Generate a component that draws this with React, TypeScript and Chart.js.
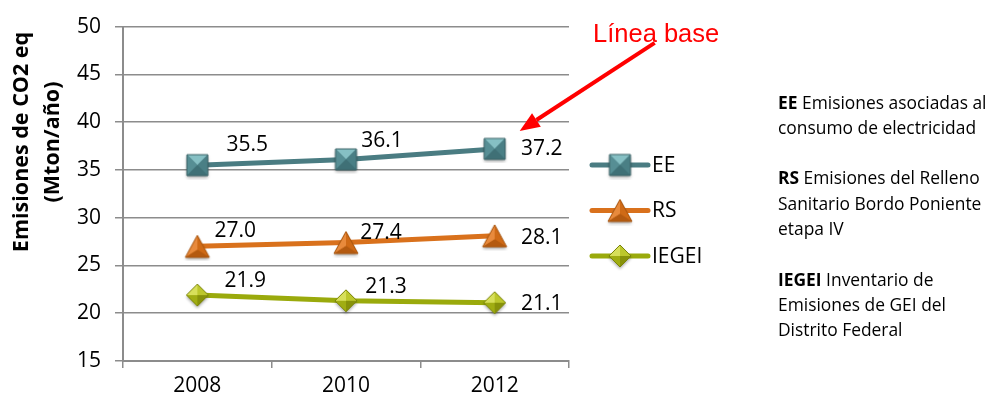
import React, { useEffect, useRef } from 'react';
import { Chart, registerables } from 'chart.js';

Chart.register(...registerables);

const YEARS = ['2008', '2010', '2012'];
const SERIES_NAMES = ['EE', 'RS', 'IEGEI'];
const EE_VALUES = [35.5, 36.1, 37.2];
const RS_VALUES = [27.0, 27.4, 28.1];
const IEGEI_VALUES = [21.9, 21.3, 21.1];
const Y_MIN = 15;
const Y_MAX = 50;
const Y_STEP = 5;
const Y_TITLE = ['Emisiones de CO2 eq', '(Mton/año)'];
const ANNOTATION_TEXT = 'Línea base';
const NOTES: [string, string][] = [
  ['EE', ' Emisiones asociadas al\nconsumo de electricidad'],
  ['RS', ' Emisiones del Relleno\nSanitario Bordo Poniente\netapa IV'],
  ['IEGEI', ' Inventario de\nEmisiones de GEI del\nDistrito Federal'],
];

const FONT = "'Open Sans', sans-serif";
const COLORS = ['#4a7c82', '#d9711c', '#9aaa0c'];

// label offsets (style/position, not data)
const LABEL_OFFSETS = [
  [[50, -20], [36, -18], [47, 0]],
  [[38, -15], [35, -10], [47, 2]],
  [[48, -14], [40, -14], [47, 1]],
];

type Pt = [number, number];

function makeMarker(kind: 'square' | 'triangle' | 'diamond', faces: string[], edge: string) {
  const pad = 4;
  const w = kind === 'square' ? 21 : kind === 'triangle' ? 24 : 22;
  const h = kind === 'square' ? 21 : kind === 'triangle' ? 22 : 22;
  const c = document.createElement('canvas');
  c.width = w + pad * 2;
  c.height = h + pad * 2;
  const ctx = c.getContext('2d')!;
  ctx.translate(pad, pad);
  let outline: Pt[] = [];
  let center: Pt = [w / 2, h / 2];
  let polys: Pt[][] = [];
  if (kind === 'square') {
    outline = [[0, 0], [w, 0], [w, h], [0, h]];
    polys = [
      [[0, 0], [w, 0], center],
      [[0, 0], [0, h], center],
      [[w, 0], [w, h], center],
      [[0, h], [w, h], center],
    ];
  } else if (kind === 'triangle') {
    center = [w / 2, h * 0.66];
    outline = [[w / 2, 0], [w, h], [0, h]];
    polys = [
      [[w / 2, 0], [0, h], center],
      [[w / 2, 0], [w, h], center],
      [[0, h], [w, h], center],
    ];
  } else {
    outline = [[w / 2, 0], [w, h / 2], [w / 2, h], [0, h / 2]];
    polys = [
      [[w / 2, 0], [0, h / 2], center],
      [[w / 2, 0], [w, h / 2], center],
      [[0, h / 2], [w / 2, h], center],
      [[w, h / 2], [w / 2, h], center],
    ];
  }
  const path = (p: Pt[]) => {
    ctx.beginPath();
    ctx.moveTo(p[0][0], p[0][1]);
    for (let i = 1; i < p.length; i++) ctx.lineTo(p[i][0], p[i][1]);
    ctx.closePath();
  };
  ctx.save();
  ctx.shadowColor = 'rgba(0,0,0,0.35)';
  ctx.shadowBlur = 3;
  ctx.shadowOffsetY = 2;
  path(outline);
  ctx.fillStyle = faces[faces.length - 1];
  ctx.fill();
  ctx.restore();
  polys.forEach((p, i) => {
    path(p);
    ctx.fillStyle = faces[i];
    ctx.fill();
  });
  path(outline);
  ctx.strokeStyle = edge;
  ctx.lineWidth = 1;
  ctx.stroke();
  return c;
}

export default function App() {
  const ref = useRef<HTMLCanvasElement | null>(null);

  useEffect(() => {
    const canvas = ref.current;
    if (!canvas) return;
    const markers = [
      makeMarker('square', ['#86c0c4', '#568e94', '#4a7f85', '#3f7076'], '#3a6367'),
      makeMarker('triangle', ['#e88a3c', '#cf6a16', '#b45a10'], '#a9560f'),
      makeMarker('diamond', ['#d7df5a', '#bcc72c', '#a0ad12', '#87920a'], '#7b8509'),
    ];
    const values = [EE_VALUES, RS_VALUES, IEGEI_VALUES];

    const overlay = {
      id: 'overlay',
      afterDatasetsDraw(chart: any) {
        const ctx = chart.ctx as CanvasRenderingContext2D;
        const area = chart.chartArea;
        ctx.save();
        // y axis title (two centred lines)
        ctx.fillStyle = '#000';
        ctx.font = `bold 21.5px ${FONT}`;
        ctx.textAlign = 'center';
        ctx.textBaseline = 'middle';
        Y_TITLE.forEach((line, i) => {
          ctx.save();
          ctx.translate(22 + i * 31, 142);
          ctx.rotate(-Math.PI / 2);
          ctx.fillText(line, 0, 0);
          ctx.restore();
        });
        // data labels
        ctx.font = `21px ${FONT}`;
        ctx.fillStyle = '#000';
        ctx.textAlign = 'center';
        ctx.textBaseline = 'middle';
        chart.data.datasets.forEach((ds: any, di: number) => {
          const meta = chart.getDatasetMeta(di);
          meta.data.forEach((pt: any, i: number) => {
            const off = LABEL_OFFSETS[di][i];
            ctx.fillText(Number(ds.data[i]).toFixed(1), pt.x + off[0], pt.y + off[1]);
          });
        });
        // legend
        chart.data.datasets.forEach((ds: any, di: number) => {
          const y = 165 + di * 45.5;
          const x0 = area.right + 23;
          ctx.strokeStyle = ds.borderColor;
          ctx.lineWidth = 5;
          ctx.lineCap = 'round';
          ctx.beginPath();
          ctx.moveTo(x0, y);
          ctx.lineTo(x0 + 56, y);
          ctx.stroke();
          const m = markers[di];
          ctx.drawImage(m, x0 + 28 - m.width / 2, y - m.height / 2);
          ctx.fillStyle = '#000';
          ctx.textAlign = 'left';
          ctx.font = `21px ${FONT}`;
          ctx.fillText(ds.label, x0 + 60, y + 1);
        });
        // annotation arrow
        const last = chart.getDatasetMeta(0).data[YEARS.length - 1];
        const tip: Pt = [last.x + 25, last.y - 18];
        const tail: Pt = [tip[0] + 135, tip[1] - 88];
        const ang = Math.atan2(tip[1] - tail[1], tip[0] - tail[0]);
        const headLen = 20;
        const headW = 8;
        const bx = tip[0] - headLen * Math.cos(ang);
        const by = tip[1] - headLen * Math.sin(ang);
        ctx.strokeStyle = '#ff0000';
        ctx.fillStyle = '#ff0000';
        ctx.lineWidth = 4;
        ctx.lineCap = 'butt';
        ctx.beginPath();
        ctx.moveTo(tail[0], tail[1]);
        ctx.lineTo(bx, by);
        ctx.stroke();
        ctx.beginPath();
        ctx.moveTo(tip[0], tip[1]);
        ctx.lineTo(bx + headW * Math.sin(ang), by - headW * Math.cos(ang));
        ctx.lineTo(bx - headW * Math.sin(ang), by + headW * Math.cos(ang));
        ctx.closePath();
        ctx.fill();
        ctx.font = `25.5px 'Liberation Sans', Arial, sans-serif`;
        ctx.textAlign = 'left';
        ctx.textBaseline = 'middle';
        ctx.fillText(ANNOTATION_TEXT, area.right + 24, 35);
        ctx.restore();
      },
    };

    const chart = new Chart(canvas, {
      type: 'line',
      data: {
        labels: YEARS,
        datasets: values.map((v, i) => ({
          label: SERIES_NAMES[i],
          data: v,
          borderColor: COLORS[i],
          backgroundColor: COLORS[i],
          borderWidth: 5,
          pointStyle: markers[i] as any,
          pointRadius: 11,
          tension: 0,
        })),
      },
      options: {
        responsive: false,
        animation: false,
        layout: { padding: { top: 24, right: 422, bottom: 0, left: 0 } },
        plugins: { legend: { display: false }, tooltip: { enabled: false } },
        scales: {
          x: {
            offset: true,
            grid: { display: true, drawOnChartArea: false, offset: true, tickLength: 7, color: '#8c8c8c', lineWidth: 1.5 },
            border: { color: '#8c8c8c', width: 2 },
            ticks: { font: { family: FONT, size: 21 }, color: '#000', padding: 5 },
            afterFit: (s: any) => { s.height = 42; },
          },
          y: {
            min: Y_MIN,
            max: Y_MAX,
            ticks: { stepSize: Y_STEP, font: { family: FONT, size: 21 }, color: '#000', padding: 14 },
            grid: { color: '#8c8c8c', lineWidth: 1.5, tickLength: 8 },
            border: { color: '#8c8c8c', width: 2 },
            title: { display: false },
            afterFit: (s: any) => { s.width = 123; },
          },
        },
      },
      plugins: [overlay],
    });
    return () => chart.destroy();
  }, []);

  return (
    <div style={{ position: 'fixed', left: 0, top: 0, width: 991, height: 403, background: '#fff' }}>
      <canvas ref={ref} width={991} height={403} style={{ width: 991, height: 403, display: 'block' }} />
      <div
        style={{
          position: 'absolute',
          left: 778,
          top: 89.5,
          fontFamily: FONT,
          fontSize: 17.4,
          lineHeight: '25.3px',
          color: '#000',
          whiteSpace: 'pre',
        }}
      >
        {NOTES.map(([b, t], i) => (
          <div key={i} style={{ marginBottom: i < NOTES.length - 1 ? 25.3 : 0 }}>
            <b>{b}</b>
            {t}
          </div>
        ))}
      </div>
    </div>
  );
}
